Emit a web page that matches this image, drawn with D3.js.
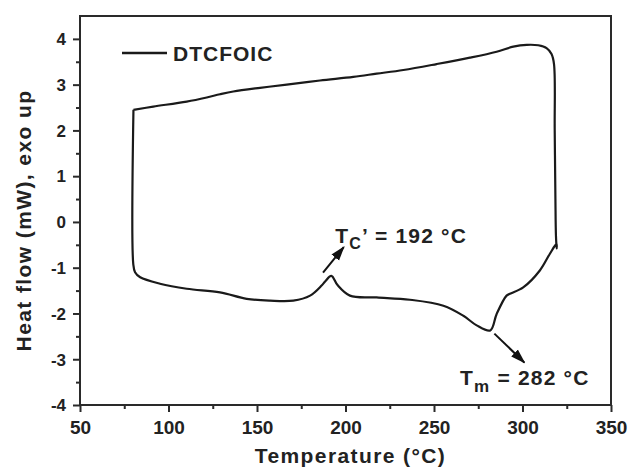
<!DOCTYPE html>
<html lang="en">
<head>
    <script src="https://d3js.org/d3.v7.min.js"></script>
    <style>
        body { margin: 0; background: #fff; }
        text { font-family: "Liberation Sans", Arial, sans-serif; font-weight: bold; fill: #222; }
        .frame { fill: none; stroke: #2a2a2a; stroke-width: 2px; }
        .curve { fill: none; stroke: #1a1a1a; stroke-width: 2.2px; stroke-linejoin: round; }
        .axis path { display: none; }
        .axis line { stroke: #2a2a2a; stroke-width: 2px; }
    </style>
</head>
<body>
    <div id="chart"></div>

    <script>
        // DSC loop: upper (cooling) trace, right edge, lower (heating) trace
        const temperature = [
            80.2, 91.4, 110.3, 121.6, 129.1, 136.6, 151.7, 166.8, 185.6, 204.4, 217.6, 232.7,
            251.5, 270.3, 285.4, 294.8, 302.4, 308.9, 313.6, 316.4, 317.8, 318.2, 318.6, 318.9, 319.3,
            319.2, 315.4, 309.8, 300.4, 292.9, 291.0, 285.4, 281.8, 274.1, 266.6, 255.3, 236.4,
            217.6, 202.5, 195.5, 192.0, 188.5, 186.5, 180.0, 170.5, 157.3, 144.2, 129.1, 110.3,
            95.2, 84.0, 81.1, 80.1, 80.2
        ];
        const heatFlow = [
            2.45, 2.52, 2.63, 2.72, 2.79, 2.85, 2.93, 3.00, 3.09, 3.17, 3.24, 3.32,
            3.45, 3.59, 3.72, 3.83, 3.87, 3.86, 3.80, 3.67, 3.45, 2.00, 0.50, -0.30, -0.58,
            -0.48, -0.70, -1.06, -1.43, -1.57, -1.61, -2.01, -2.37, -2.26, -2.05, -1.83, -1.70,
            -1.65, -1.61, -1.38, -1.18, -1.30, -1.39, -1.61, -1.72, -1.72, -1.68, -1.54, -1.46,
            -1.35, -1.21, -1.10, -0.92, 2.45
        ];

        const xTicks = [50, 100, 150, 200, 250, 300, 350];
        const xMinor = [75, 125, 175, 225, 275, 325];
        const yTicks = [-4, -3, -2, -1, 0, 1, 2, 3, 4];
        const yMinor = [-3.5, -2.5, -1.5, -0.5, 0.5, 1.5, 2.5, 3.5];

        const seriesName = 'DTCFOIC';
        // annotation anchors in data units: [arrow start, arrow tip, label position]
        const tcNote = { from: [187.3, -1.11], to: [199.0, -0.55], label: [194.2, -0.47], value: '192' };
        const tmNote = { from: [284.1, -2.44], to: [301.0, -3.07], label: [264.7, -3.57], value: '282' };

        const width = 632, height = 473;
        const margin = { top: 16, right: 21, bottom: 68, left: 80 };

        const svg = d3.select('#chart')
            .append('svg')
            .attr('width', width)
            .attr('height', height);

        const x = d3.scaleLinear().domain([50, 350]).range([margin.left, width - margin.right]);
        const y = d3.scaleLinear().domain([-4, 4.5]).range([height - margin.bottom, margin.top]);

        svg.append('defs').append('marker')
            .attr('id', 'arrow')
            .attr('viewBox', '0 0 10 10')
            .attr('refX', 9).attr('refY', 5)
            .attr('markerWidth', 7.5).attr('markerHeight', 7.5)
            .attr('markerUnits', 'strokeWidth')
            .attr('orient', 'auto')
            .append('path')
            .attr('d', 'M0,1.8 L10,5 L0,8.2 Z')
            .attr('fill', '#111');

        // minor ticks first, majors on top
        svg.append('g')
            .attr('class', 'axis')
            .attr('transform', `translate(0,${y(-4)})`)
            .call(d3.axisBottom(x).tickValues(xMinor).tickSize(4).tickFormat(''));
        svg.append('g')
            .attr('class', 'axis')
            .attr('transform', `translate(${x(50)},0)`)
            .call(d3.axisLeft(y).tickValues(yMinor).tickSize(4).tickFormat(''));

        const xAxis = svg.append('g')
            .attr('class', 'axis')
            .attr('transform', `translate(0,${y(-4)})`)
            .call(d3.axisBottom(x).tickValues(xTicks).tickSize(7).tickPadding(9).tickFormat(d3.format('d')));
        xAxis.selectAll('text').style('font-size', '19px');

        const yAxis = svg.append('g')
            .attr('class', 'axis')
            .attr('transform', `translate(${x(50)},0)`)
            .call(d3.axisLeft(y).tickValues(yTicks).tickSize(7).tickPadding(7).tickFormat(d => d < 0 ? '-' + Math.abs(d) : d));
        yAxis.selectAll('text').style('font-size', '17px').attr('dy', '0.34em');

        // frame box
        svg.append('rect')
            .attr('class', 'frame')
            .attr('x', x(50)).attr('y', y(4.5))
            .attr('width', x(350) - x(50))
            .attr('height', y(-4) - y(4.5));

        const line = d3.line()
            .x(i => x(temperature[i]))
            .y(i => y(heatFlow[i]))
            .curve(d3.curveCatmullRom.alpha(0.5));

        svg.append('path')
            .attr('class', 'curve')
            .attr('d', line(d3.range(temperature.length)));

        // legend
        svg.append('line')
            .attr('x1', 122).attr('x2', 167)
            .attr('y1', 53).attr('y2', 53)
            .attr('stroke', '#1a1a1a').attr('stroke-width', 2.4);
        svg.append('text')
            .attr('x', 173).attr('y', 61)
            .style('font-size', '21px')
            .style('letter-spacing', '1px')
            .text(seriesName);

        // annotations
        [tcNote, tmNote].forEach(n => {
            svg.append('line')
                .attr('x1', x(n.from[0])).attr('y1', y(n.from[1]))
                .attr('x2', x(n.to[0])).attr('y2', y(n.to[1]))
                .attr('stroke', '#111').attr('stroke-width', 2)
                .attr('marker-end', 'url(#arrow)');
        });

        const tc = svg.append('text')
            .attr('x', x(tcNote.label[0])).attr('y', y(tcNote.label[1]))
            .style('font-size', '21px')
            .style('letter-spacing', '1.2px');
        tc.append('tspan').text('T');
        tc.append('tspan').attr('dy', 6).style('font-size', '16px').text('C');
        tc.append('tspan').attr('dy', -6).text('\u2019 = ' + tcNote.value + ' \u00B0C');

        const tm = svg.append('text')
            .attr('x', x(tmNote.label[0])).attr('y', y(tmNote.label[1]))
            .style('font-size', '21px')
            .style('letter-spacing', '1.2px');
        tm.append('tspan').text('T');
        tm.append('tspan').attr('dy', 7).style('font-size', '17px').text('m');
        tm.append('tspan').attr('dy', -7).text(' = ' + tmNote.value + ' \u00B0C');

        // axis titles
        svg.append('text')
            .attr('x', (x(50) + x(350)) / 2 + 5).attr('y', 463)
            .attr('text-anchor', 'middle')
            .style('font-size', '21px')
            .style('letter-spacing', '1.4px')
            .text('Temperature (\u00B0C)');

        svg.append('text')
            .attr('transform', `translate(31,${(y(-4) + y(4.5)) / 2 + 10}) rotate(-90)`)
            .attr('text-anchor', 'middle')
            .style('font-size', '21px')
            .style('letter-spacing', '1.4px')
            .text('Heat flow (mW), exo up');
    </script>
</body>
</html>
